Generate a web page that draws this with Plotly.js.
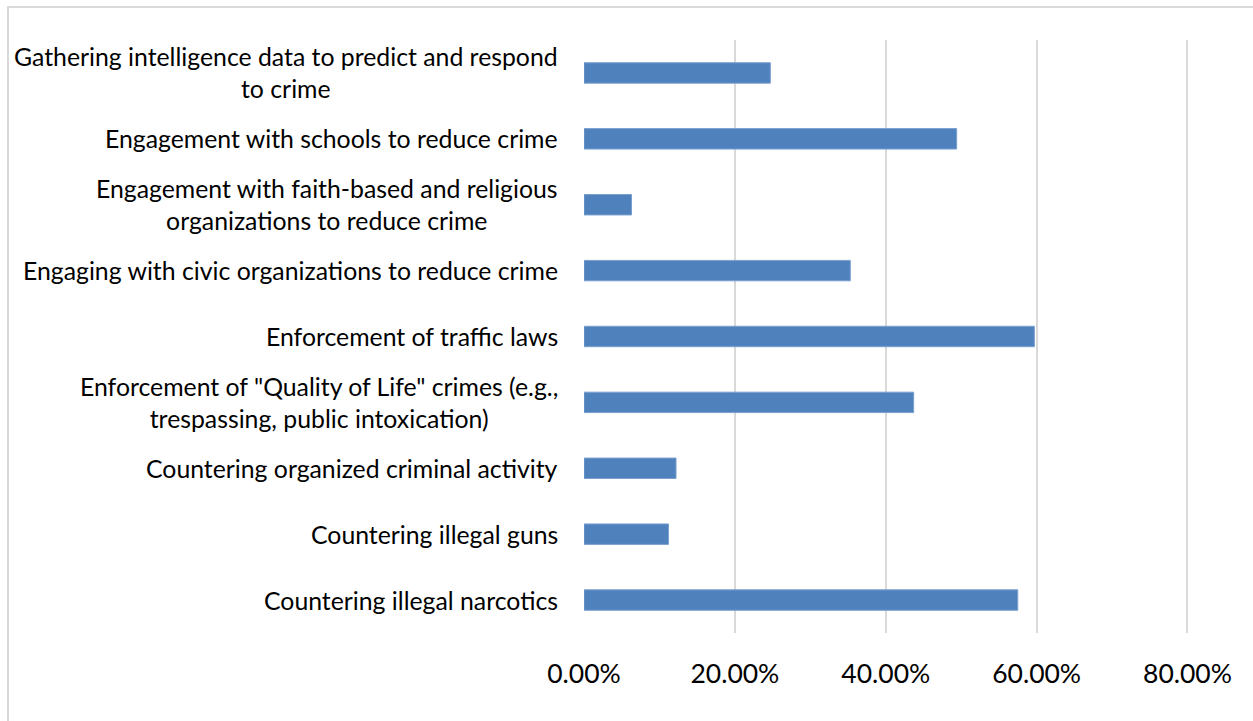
<!DOCTYPE html>
<html>
<head>
<meta charset="utf-8">
<script src="https://cdn.plot.ly/plotly-3.0.1.min.js"></script>
<style>
  html, body { margin: 0; padding: 0; background: #ffffff; }
  #wrap { position: relative; width: 1253px; height: 721px; overflow: hidden; }
  #chart { position: absolute; left: 0; top: 0; width: 1253px; height: 721px; }
  #frame { position: absolute; left: 7px; top: 6px; width: 1260px; height: 740px;
           border: 2px solid #d9d9d9; pointer-events: none; box-sizing: border-box; }
</style>
</head>
<body>
<div id="wrap">
  <div id="chart"></div>
  <div id="frame"></div>
</div>
<script>
// Categories, bottom to top (as drawn)
const categories = [
  "Countering illegal narcotics",
  "Countering illegal guns",
  "Countering organized criminal activity",
  "Enforcement of \"Quality of Life\" crimes (e.g.,<br>trespassing, public intoxication)",
  "Enforcement of traffic laws",
  "Engaging with civic organizations to reduce crime",
  "Engagement with faith-based and religious<br>organizations to reduce crime",
  "Engagement with schools to reduce crime",
  "Gathering intelligence data to predict and respond<br>to crime"
];
// Share of respondents (fraction)
const values = [0.575, 0.112, 0.122, 0.437, 0.597, 0.353, 0.063, 0.494, 0.247];
const tickValues = [0, 0.2, 0.4, 0.6, 0.8];
const tickLabels = ["0.00%", "20.00%", "40.00%", "60.00%", "80.00%"];

const FONT = "Lato, Carlito, Calibri, 'Liberation Sans', sans-serif";

const trace = {
  type: "bar",
  orientation: "h",
  x: values,
  y: categories,
  width: 0.31,
  marker: { color: "#4f81bd", line: { color: "#7aa0cf", width: 1 } },
  hoverinfo: "skip"
};

const annotations = categories.map(c => ({
  xref: "paper", yref: "y",
  x: 0, y: c,
  xanchor: "right", yanchor: "middle",
  xshift: -24,
  align: "center",
  text: c,
  showarrow: false,
  font: { family: FONT, size: 24.8, color: "#000000" }
}));

const layout = {
  width: 1253, height: 721,
  margin: { l: 584, r: 63.5, t: 40, b: 88, pad: 0 },
  paper_bgcolor: "#ffffff",
  plot_bgcolor: "#ffffff",
  showlegend: false,
  font: { family: FONT, color: "#000000" },
  xaxis: {
    range: [0, 0.802],
    tickvals: tickValues,
    ticktext: tickLabels,
    showgrid: true,
    gridcolor: "#d9d9d9",
    gridwidth: 2,
    zeroline: false,
    showline: false,
    ticks: "",
    ticklabelstandoff: 22,
    tickfont: { family: FONT, size: 26.5, color: "#000000" },
    fixedrange: true
  },
  yaxis: {
    type: "category",
    categoryorder: "array",
    categoryarray: categories,
    range: [-0.5, categories.length - 0.5],
    showticklabels: false,
    showgrid: false,
    zeroline: false,
    showline: false,
    ticks: "",
    fixedrange: true
  },
  annotations: annotations
};

Plotly.newPlot("chart", [trace], layout, { staticPlot: true, displayModeBar: false });
</script>
</body>
</html>
